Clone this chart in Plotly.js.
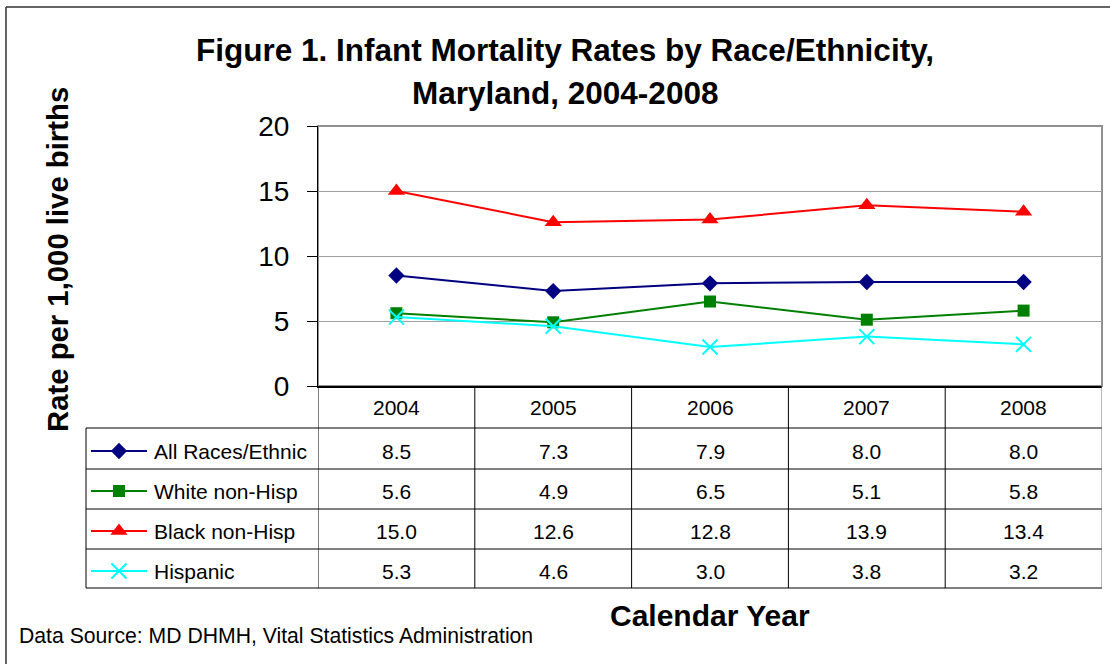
<!DOCTYPE html>
<html>
<head>
<meta charset="utf-8">
<script src="https://cdn.plot.ly/plotly-3.0.1.min.js"></script>
<style>
html, body { margin: 0; padding: 0; background: #ffffff; }
#chart { width: 1110px; height: 664px; }
</style>
</head>
<body>
<div id="chart"></div>
<script>
// ---------------- data ----------------
const years = ['2004', '2005', '2006', '2007', '2008'];
const allRaces = [8.5, 7.3, 7.9, 8.0, 8.0];
const whiteNonHisp = [5.6, 4.9, 6.5, 5.1, 5.8];
const blackNonHisp = [15.0, 12.6, 12.8, 13.9, 13.4];
const hispanic = [5.3, 4.6, 3.0, 3.8, 3.2];
const seriesNames = ['All Races/Ethnic', 'White non-Hisp', 'Black non-Hisp', 'Hispanic'];
const yTickValues = [0, 5, 10, 15, 20];

const chartTitleLine1 = 'Figure 1. Infant Mortality Rates by Race/Ethnicity,';
const chartTitleLine2 = 'Maryland, 2004-2008';
const yTitle = 'Rate per 1,000 live births';
const xTitle = 'Calendar Year';
const sourceNote = 'Data Source: MD DHMH, Vital Statistics Administration';

// ---------------- layout helpers ----------------
const W = 1110, H = 664;
const px = v => v / W;
const py = v => 1 - v / H;
const FONT = 'Arial, "Liberation Sans", sans-serif';

const seriesValues = [allRaces, whiteNonHisp, blackNonHisp, hispanic];
const seriesStyle = [
  { color: '#000080', symbol: 'diamond', size: 12.5, open: false },
  { color: '#008000', symbol: 'square', size: 12, open: false },
  { color: '#FF0000', symbol: 'triangle-up', size: 15, open: false },
  { color: '#00FFFF', symbol: 'x-thin-open', size: 15, open: true }
];

// plot area in pixels
const plotL = 318, plotR = 1102, plotT = 126, plotB = 386;
// table rows (pixels)
const tableLeft = 86;
const rowLines = [428, 469, 509, 549, 588];
const rowTextY = [451, 491, 531, 571];
const headerTextY = 407;

const traces = [];
seriesValues.forEach((vals, i) => {
  const st = seriesStyle[i];
  const marker = { symbol: st.symbol, size: st.size, color: st.color };
  if (st.open) marker.line = { color: st.color, width: 2 };
  traces.push({
    type: 'scatter', mode: 'lines+markers',
    x: years, y: vals, name: seriesNames[i],
    line: { color: st.color, width: 2 },
    marker: marker,
    xaxis: 'x', yaxis: 'y', hoverinfo: 'skip', showlegend: false, cliponaxis: false
  });
});

// legend keys inside the table (overlay pixel axis)
seriesNames.forEach((name, i) => {
  const st = seriesStyle[i];
  traces.push({
    type: 'scatter', mode: 'lines',
    x: [91, 147], y: [rowTextY[i], rowTextY[i]],
    line: { color: st.color, width: 2 },
    xaxis: 'x2', yaxis: 'y2', hoverinfo: 'skip', showlegend: false
  });
  const marker = { symbol: st.symbol, size: st.size, color: st.color };
  if (st.open) marker.line = { color: st.color, width: 2 };
  traces.push({
    type: 'scatter', mode: 'markers',
    x: [119], y: [rowTextY[i]],
    marker: marker,
    xaxis: 'x2', yaxis: 'y2', hoverinfo: 'skip', showlegend: false
  });
});

const shapes = [];
const lineShape = (x0, y0, x1, y1, color, width) => ({
  type: 'line', xref: 'paper', yref: 'paper',
  x0: px(x0), y0: py(y0), x1: px(x1), y1: py(y1),
  line: { color: color, width: width }
});
// outer chart border (left & top visible)
shapes.push(lineShape(6, 7, 6, 670, '#303030', 1.5));
shapes.push(lineShape(6, 7, 1115, 7, '#303030', 1.5));
// plot area border (gray)
shapes.push({ type: 'rect', xref: 'x domain', yref: 'y domain', x0: 0, x1: 1, y0: 0, y1: 1,
  line: { color: '#909090', width: 2 }, layer: 'below' });
// table horizontal lines
rowLines.forEach(y => shapes.push(lineShape(tableLeft, y, plotR, y, '#000000', 1)));
// table verticals
shapes.push(lineShape(tableLeft, rowLines[0], tableLeft, rowLines[rowLines.length - 1], '#000000', 1));
for (let i = 0; i <= years.length; i++) {
  shapes.push({ type: 'line', xref: 'x', yref: 'paper', x0: i - 0.5, x1: i - 0.5,
    y0: py(plotB), y1: py(rowLines[rowLines.length - 1]),
    line: { color: (i === years.length ? '#707070' : '#000000'), width: 1 } });
}

const annotations = [];
const ann = (text, x, y, size, opts) => Object.assign({
  text: text, xref: 'paper', yref: 'paper', x: x, y: y, showarrow: false,
  font: { family: FONT, size: size, color: '#000000' }, xanchor: 'center', yanchor: 'middle'
}, opts || {});

annotations.push(ann('<b>' + chartTitleLine1 + '</b>', px(565), py(50), 31.5));
annotations.push(ann('<b>' + chartTitleLine2 + '</b>', px(565), py(93), 31.5));
annotations.push(ann('<b>' + yTitle + '</b>', px(57), py(260), 29.3, { textangle: -90 }));
annotations.push(ann('<b>' + xTitle + '</b>', px(710), py(615), 30));
annotations.push(ann(sourceNote, px(17), py(635), 21.2, { xanchor: 'left' }));

// table header (years) and values
years.forEach((yr, j) => {
  annotations.push(ann(yr, j, py(headerTextY), 21, { xref: 'x' }));
  seriesValues.forEach((vals, i) => {
    annotations.push(ann(vals[j].toFixed(1), j, py(rowTextY[i]), 21, { xref: 'x' }));
  });
});
seriesNames.forEach((name, i) => {
  annotations.push(ann(name, px(152), py(rowTextY[i]), 21, { xanchor: 'left' }));
});

const layout = {
  width: W, height: H,
  margin: { l: 0, r: 0, t: 0, b: 0, pad: 0 },
  paper_bgcolor: '#ffffff', plot_bgcolor: 'rgba(0,0,0,0)',
  showlegend: false,
  font: { family: FONT, color: '#000000' },
  xaxis: {
    type: 'category', domain: [px(plotL), px(plotR)], range: [-0.5, 4.5],
    showticklabels: false, ticks: '', showgrid: false, zeroline: false,
    showline: true, linecolor: '#000000', linewidth: 2, fixedrange: true
  },
  yaxis: {
    domain: [py(plotB), py(plotT)], range: [0, 20],
    tickvals: yTickValues, ticktext: yTickValues.map(String),
    ticks: 'outside', ticklen: 10, tickcolor: '#000000', tickwidth: 1,
    ticklabelstandoff: 12,
    tickfont: { family: FONT, size: 28, color: '#000000' },
    showgrid: true, gridcolor: '#a0a0a0', gridwidth: 1,
    zeroline: false, showline: true, linecolor: '#000000', linewidth: 1, fixedrange: true
  },
  xaxis2: { domain: [0, 1], range: [0, W], visible: false, fixedrange: true, anchor: 'y2' },
  yaxis2: { domain: [0, 1], range: [H, 0], visible: false, fixedrange: true, anchor: 'x2' },
  shapes: shapes,
  annotations: annotations
};

Plotly.newPlot('chart', traces, layout, { staticPlot: true, displayModeBar: false });
</script>
</body>
</html>
